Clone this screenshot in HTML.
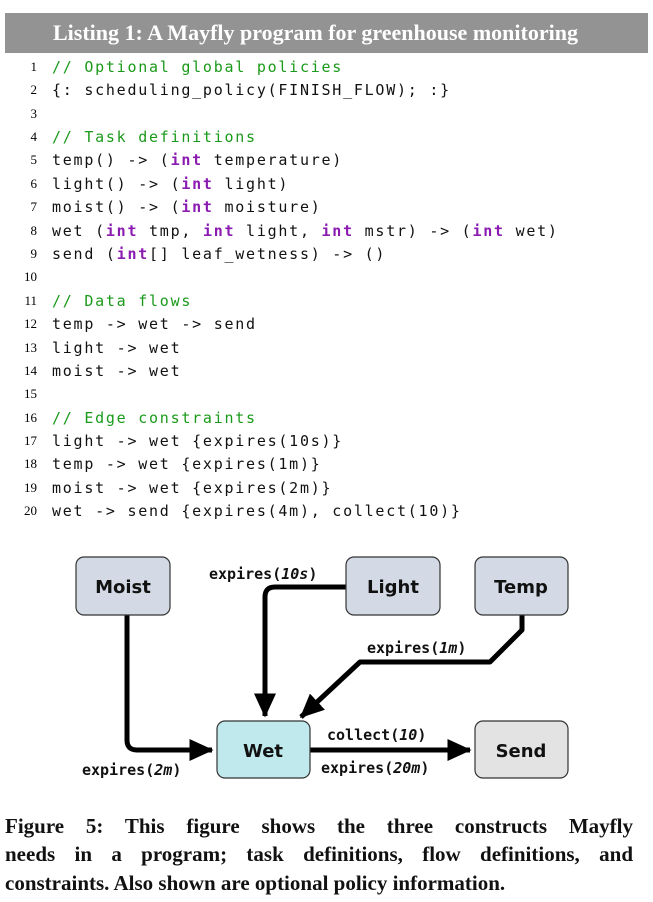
<!DOCTYPE html>
<html><head><meta charset="utf-8"><style>
body{margin:0;width:653px;height:902px;background:#fff;position:relative;overflow:hidden}
.hdr{position:absolute;left:5px;top:13px;width:643px;height:40px;background:#939393;color:#fff;font:bold 22px "Liberation Serif",serif;line-height:40px;padding-left:48px;box-sizing:border-box}
.ln{position:absolute;left:0;width:653px;height:23px;line-height:23px}
.n{position:absolute;right:616px;font:13px "Liberation Serif",serif;color:#000;top:1px}
.c{position:absolute;left:52px;font:15px "DejaVu Sans Mono",monospace;letter-spacing:1.75px;color:#111;white-space:pre}
.g{color:#1a9a1a}.k{color:#8a1ab0;font-weight:bold}
.cl{position:absolute;left:5px;width:628px;font:bold 21px "Liberation Serif",serif;line-height:28.5px;text-align:justify;text-align-last:justify;color:#111;white-space:nowrap}
</style></head><body>
<div class="hdr">Listing 1: A Mayfly program for greenhouse monitoring</div>
<div class="ln" style="top:58px"><span class="n">1</span><span class="c g">// Optional global policies</span></div>
<div class="ln" style="top:81px"><span class="n">2</span><span class="c">{: scheduling_policy(FINISH_FLOW); :}</span></div>
<div class="ln" style="top:105px"><span class="n">3</span></div>
<div class="ln" style="top:128px"><span class="n">4</span><span class="c g">// Task definitions</span></div>
<div class="ln" style="top:151px"><span class="n">5</span><span class="c">temp() -> (<span class="k">int</span> temperature)</span></div>
<div class="ln" style="top:175px"><span class="n">6</span><span class="c">light() -> (<span class="k">int</span> light)</span></div>
<div class="ln" style="top:198px"><span class="n">7</span><span class="c">moist() -> (<span class="k">int</span> moisture)</span></div>
<div class="ln" style="top:222px"><span class="n">8</span><span class="c">wet (<span class="k">int</span> tmp, <span class="k">int</span> light, <span class="k">int</span> mstr) -> (<span class="k">int</span> wet)</span></div>
<div class="ln" style="top:245px"><span class="n">9</span><span class="c">send (<span class="k">int</span>[] leaf_wetness) -> ()</span></div>
<div class="ln" style="top:268px"><span class="n">10</span></div>
<div class="ln" style="top:292px"><span class="n">11</span><span class="c g">// Data flows</span></div>
<div class="ln" style="top:315px"><span class="n">12</span><span class="c">temp -> wet -> send</span></div>
<div class="ln" style="top:339px"><span class="n">13</span><span class="c">light -> wet</span></div>
<div class="ln" style="top:362px"><span class="n">14</span><span class="c">moist -> wet</span></div>
<div class="ln" style="top:385px"><span class="n">15</span></div>
<div class="ln" style="top:409px"><span class="n">16</span><span class="c g">// Edge constraints</span></div>
<div class="ln" style="top:432px"><span class="n">17</span><span class="c">light -> wet {expires(10s)}</span></div>
<div class="ln" style="top:455px"><span class="n">18</span><span class="c">temp -> wet {expires(1m)}</span></div>
<div class="ln" style="top:479px"><span class="n">19</span><span class="c">moist -> wet {expires(2m)}</span></div>
<div class="ln" style="top:502px"><span class="n">20</span><span class="c">wet -> send {expires(4m), collect(10)}</span></div>

<svg style="position:absolute;left:0;top:0" width="653" height="902">
<defs><marker id="a" markerWidth="5" markerHeight="5" refX="4.5" refY="2.5" orient="auto" markerUnits="strokeWidth"><path d="M0,0.3 L4.8,2.5 L0,4.7z" fill="#000"/></marker></defs>
<g fill="none" stroke="#000" stroke-width="5" stroke-linejoin="round">
<path d="M127,615 V740 Q127,750 137,750 H212" marker-end="url(#a)"/>
<path d="M346,587 H275 Q265,587 265,597 V716" marker-end="url(#a)"/>
<path d="M522,615 V630 L490,662 H360 L301,717" marker-end="url(#a)"/>
<path d="M310,750 H470" marker-end="url(#a)"/>
</g>
<g stroke="#333" stroke-width="1.2">
<rect x="76" y="557" width="94" height="58" rx="8" fill="#d3dae5"/>
<rect x="346" y="557" width="94" height="58" rx="8" fill="#d3dae5"/>
<rect x="475" y="557" width="93" height="58" rx="8" fill="#d3dae5"/>
<rect x="217" y="721" width="93" height="57" rx="8" fill="#bfe9ed"/>
<rect x="475" y="721" width="93" height="57" rx="8" fill="#e3e3e3"/>
</g>
<g font-family="'DejaVu Sans','Liberation Sans',sans-serif" font-weight="bold" font-size="18" text-anchor="middle" fill="#111">
<text x="123" y="593">Moist</text><text x="393" y="593">Light</text><text x="521" y="593">Temp</text>
<text x="263" y="757">Wet</text><text x="521" y="757">Send</text>
</g>
<g font-family="'DejaVu Sans Mono','Liberation Mono',monospace" font-weight="bold" font-size="15" fill="#111">
<text x="209" y="579">expires(<tspan font-style="italic">10s</tspan>)</text>
<text x="367" y="653">expires(<tspan font-style="italic">1m</tspan>)</text>
<text x="327" y="740">collect(<tspan font-style="italic">10</tspan>)</text>
<text x="321" y="773">expires(<tspan font-style="italic">20m</tspan>)</text>
<text x="82" y="775">expires(<tspan font-style="italic">2m</tspan>)</text>
</g>
</svg>
<div class="cl" style="top:812px">Figure 5: This figure shows the three constructs Mayfly</div>
<div class="cl" style="top:840px">needs in a program; task definitions, flow definitions, and</div>
<div class="cl" style="top:869px;text-align-last:left">constraints. Also shown are optional policy information.</div>
</body></html>
